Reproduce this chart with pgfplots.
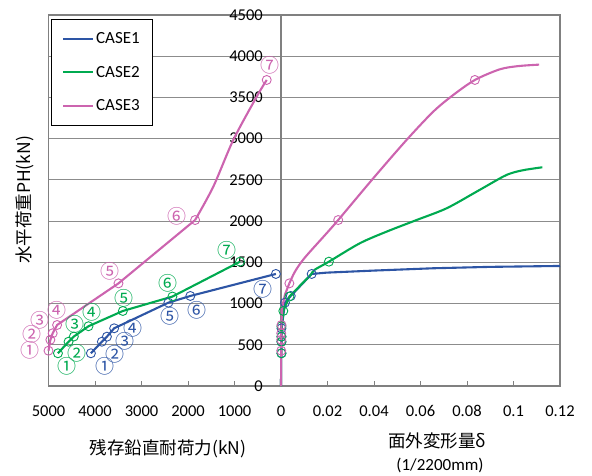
\documentclass[border=0pt]{standalone}
\usepackage{pgfplots}
\usepackage{pgfplotstable}
\pgfplotsset{compat=1.18}
\usepackage{fontspec}
\setmainfont{Carlito}
\newfontfamily\jp{Noto Sans CJK JP}
\definecolor{cblue}{RGB}{45,85,165}
\definecolor{cgreen}{RGB}{0,170,80}
\definecolor{cpink}{RGB}{204,100,175}

% steps: residual vertical capacity kN, horizontal load PH, out-of-plane deformation d
\pgfplotstableread{
kN PH d
4088 397 0.0002
3852 537 0.0002
3744 598 0.0002
3588 700 0.0002
2421 1011 0.0017
1950 1092 0.0042
110 1359 0.0132
}\blueSteps
\pgfplotstableread{
kN PH d
4797 397 0.0002
4569 537 0.0002
4455 600 0.0002
4140 725 0.0002
3401 910 0.0010
2335 1085 0.0036
881 1508 0.0206
}\greenSteps
\pgfplotstableread{
kN PH d
5000 428 0.0001
4960 560 0.0001
4910 640 0.0001
4815 740 0.0002
3495 1245 0.0036
1847 2013 0.0246
307 3712 0.0834
}\pinkSteps
\pgfplotstableread{
kN PH
5000 428
4960 560
4910 640
4815 740
3495 1245
1847 2013
}\pinkLeftA
\pgfplotstableread{
kN PH
1847 2013
1456 2418
1026 2984
523 3509
307 3712
}\pinkLeftB
\pgfplotstableread{
d PH
0 0
0.0001 397
0.0002 537
0.0002 598
0.0003 700
0.0017 1011
0.0042 1092
0.0132 1359
0.0196 1375
0.0400 1400
0.0655 1428
0.0900 1445
0.1200 1456
}\blueRight
\pgfplotstableread{
d PH
0 0
0.0001 397
0.0002 537
0.0002 600
0.0003 725
0.0010 910
0.0036 1085
0.0130 1355
}\greenRightA
\pgfplotstableread{
d PH
0.0130 1355
0.0145 1410
0.0206 1508
0.0339 1731
0.0454 1872
0.0583 2013
0.0712 2155
0.0841 2357
0.0955 2539
0.0998 2588
0.1050 2622
0.1124 2653
}\greenRightB
\pgfplotstableread{
d PH
0 0
0.0001 428
0.0001 560
0.0001 640
0.0002 740
0.0005 950
0.0017 1110
0.0036 1245
}\pinkRightA
\pgfplotstableread{
d PH
0.0036 1245
0.0060 1387
0.0101 1552
0.0196 1852
0.0246 2013
0.0397 2520
0.0540 2984
0.0655 3328
0.0741 3530
0.0834 3712
0.0941 3841
0.1020 3880
0.1110 3898
}\pinkRightB

\begin{document}
\begin{tikzpicture}
\useasboundingbox (0pt,0pt) rectangle (592pt,476pt);
\begin{axis}[
  at={(48.5pt,90pt)}, anchor=south west,
  scale only axis, width=511.5pt, height=371pt,
  xmin=-5, xmax=6, ymin=0, ymax=4500,
  clip=false,
  axis line style={black!50, line width=1.2pt},
  xtick={-5,-4,-3,-2,-1,0,1,2,3,4,5,6},
  xticklabels={5000,4000,3000,2000,1000,0,0.02,0.04,0.06,0.08,0.1,0.12},
  xtick pos=left, tick align=inside, major tick length=5pt,
  xtick style={black!50, line width=0.8pt},
  ytick={0,500,1000,1500,2000,2500,3000,3500,4000,4500},
  yticklabels={0,500,1000,1500,2000,2500,3000,3500,4000,4500},
  ytick style={draw=none},
  yticklabel pos=left,
  ymajorgrids, major grid style={black!45, line width=0.9pt},
  extra x ticks={0}, extra x tick labels={},
  extra x tick style={xmajorgrids=true, major grid style={black!50, line width=1.6pt}, major tick length=0pt},
  /pgf/number format/assume math mode=true,
  tick label style={font=\fontsize{16.5}{18}\selectfont, inner sep=0pt},
  yticklabel style={anchor=east, xshift=214.5pt},
  xticklabel style={anchor=center, yshift=-25pt},
  legend style={at={(rel axis cs:0.0043,0.989)}, anchor=north west,
    draw=black, line width=0.8pt, fill=white,
    font=\fontsize{17}{20}\selectfont,
    inner xsep=11pt, inner ysep=11pt, row sep=17pt,
    cells={anchor=west}},
  legend image code/.code={\draw[#1, line width=2pt] (0pt,0pt) -- (30pt,0pt);},
  mark size=4.5pt,
]
% left side: residual vertical capacity
\addplot[cblue, line width=2.1pt, mark=o, mark options={line width=0.9pt}]
  table[x expr=-\thisrow{kN}/1000, y=PH] {\blueSteps};
\addlegendentry{CASE1}
\addplot[cgreen, line width=2.1pt, mark=o, mark options={line width=0.9pt}]
  table[x expr=-\thisrow{kN}/1000, y=PH] {\greenSteps};
\addlegendentry{CASE2}
\addplot[cpink, line width=2.1pt, mark=none]
  table[x expr=-\thisrow{kN}/1000, y=PH] {\pinkLeftA};
\addlegendentry{CASE3}
\addplot[cpink, line width=2.1pt, mark=none, smooth, forget plot]
  table[x expr=-\thisrow{kN}/1000, y=PH] {\pinkLeftB};
\addplot[cpink, only marks, mark=o, mark options={line width=0.9pt}, forget plot]
  table[x expr=-\thisrow{kN}/1000, y=PH] {\pinkSteps};
% right side: out-of-plane deformation
\addplot[cblue, line width=2.1pt, mark=none, forget plot]
  table[x expr=\thisrow{d}/0.02, y=PH] {\blueRight};
\addplot[cgreen, line width=2.1pt, mark=none, forget plot]
  table[x expr=\thisrow{d}/0.02, y=PH] {\greenRightA};
\addplot[cgreen, line width=2.1pt, mark=none, smooth, forget plot]
  table[x expr=\thisrow{d}/0.02, y=PH] {\greenRightB};
\addplot[cpink, line width=2.1pt, mark=none, forget plot]
  table[x expr=\thisrow{d}/0.02, y=PH] {\pinkRightA};
\addplot[cpink, line width=2.1pt, mark=none, smooth, forget plot]
  table[x expr=\thisrow{d}/0.02, y=PH] {\pinkRightB};
\addplot[cblue, only marks, mark=o, mark options={line width=0.9pt}, forget plot]
  table[x expr=\thisrow{d}/0.02, y=PH] {\blueSteps};
\addplot[cgreen, only marks, mark=o, mark options={line width=0.9pt}, forget plot]
  table[x expr=\thisrow{d}/0.02, y=PH] {\greenSteps};
\addplot[cpink, only marks, mark=o, mark options={line width=0.9pt}, forget plot]
  table[x expr=\thisrow{d}/0.02, y=PH] {\pinkSteps};
\end{axis}
% step labels
\begin{scope}[font=\jp\fontsize{19}{19}\selectfont, inner sep=0pt]
\node[text=cblue] at (105pt,110pt) {①};
\node[text=cblue] at (115pt,122pt) {②};
\node[text=cblue] at (125pt,134.3pt) {③};
\node[text=cblue] at (133.3pt,147.7pt) {④};
\node[text=cblue] at (170pt,159.3pt) {⑤};
\node[text=cblue] at (196.7pt,166pt) {⑥};
\node[text=cblue] at (262.7pt,186.7pt) {⑦};
\node[text=cgreen] at (66.7pt,110pt) {①};
\node[text=cgreen] at (76.7pt,122.7pt) {②};
\node[text=cgreen] at (75pt,151.7pt) {③};
\node[text=cgreen] at (91.7pt,163.3pt) {④};
\node[text=cgreen] at (124pt,177.7pt) {⑤};
\node[text=cgreen] at (168.3pt,192.7pt) {⑥};
\node[text=cgreen] at (226.7pt,225.5pt) {⑦};
\node[text=cpink] at (30pt,126pt) {①};
\node[text=cpink] at (31.7pt,142pt) {②};
\node[text=cpink] at (40pt,155.3pt) {③};
\node[text=cpink] at (56.7pt,166pt) {④};
\node[text=cpink] at (110pt,205pt) {⑤};
\node[text=cpink] at (176.7pt,259.3pt) {⑥};
\node[text=cpink] at (270pt,411pt) {⑦};
\end{scope}
% axis titles
\node[rotate=90, font=\jp\fontsize{17.5}{20}\selectfont, inner sep=0pt] at (25pt,276pt) {水平荷重PH(kN)};
\node[font=\jp\fontsize{17.5}{20}\selectfont, inner sep=0pt] at (168pt,27pt) {残存鉛直耐荷力(kN)};
\node[font=\jp\fontsize{17.5}{20}\selectfont, inner sep=0pt] at (437pt,35pt) {面外変形量δ};
\node[font=\fontsize{17}{20}\selectfont, inner sep=0pt] at (440pt,11pt) {(1/2200mm)};
\end{tikzpicture}
\end{document}
